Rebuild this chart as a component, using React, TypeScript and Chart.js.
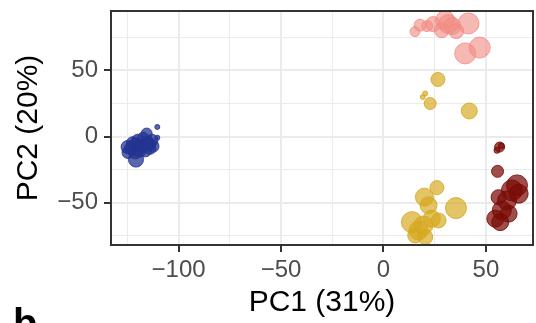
import { useEffect, useRef } from "react";
import { Chart, registerables } from "chart.js";

Chart.register(...registerables);

// PCA scores per sample group: PC1, PC2 and a per-sample size value (bubble radius)
const blueX = [-122.3, -118.9, -115.0, -113.0, -116.3, -121.2, -124.7, -114.0, -120.0, -117.3, -112.5, -123.2, -118.0, -121.0, -116.0, -119.0, -114.0, -124.9, -120.8, -115.6, -110.4, -110.4];
const blueY = [-5.0, -6.6, -4.3, -2.8, -10.4, -11.9, -12.0, -8.9, -2.8, -1.3, -7.3, -8.9, -8.0, -6.0, -6.0, -11.0, -5.5, -7.9, -17.4, 2.3, 7.3, -0.8];
const blueS = [6.5, 6.5, 6, 6, 6.5, 6.5, 6, 6, 6, 6, 6, 6.5, 6.5, 6.5, 6.5, 6, 6, 6.5, 7.5, 5.5, 2.5, 2.5];

const salmonX = [15.4, 17.9, 21.3, 24.3, 28.5, 30.1, 31.6, 33.6, 35.5, 41.5, 39.9, 47.0];
const salmonY = [79.4, 84.3, 83.6, 85.1, 80.5, 88.1, 85.1, 83.6, 79.8, 85.6, 62.9, 67.3];
const salmonS = [5, 6, 5.5, 7.5, 7.5, 9.5, 9.5, 8.5, 7.5, 10.5, 10.5, 10.5];

const goldX = [26.6, 20.4, 19.2, 22.8, 41.9, 26.1, 20.0, 22.0, 35.4, 13.9, 23.6, 19.5, 17.1, 20.4, 15.5, 26.9];
const goldY = [43.2, 32.6, 30.0, 25.0, 19.4, -38.6, -45.8, -52.0, -54.1, -64.7, -62.1, -67.2, -71.0, -76.0, -74.8, -63.4];
const goldS = [7, 2.5, 2.5, 6, 8, 7, 9, 8.5, 10.5, 10.5, 8.5, 9.5, 9.5, 7.5, 7.5, 7.5];

const redX = [56.7, 55.4, 57.5, 55.7, 65.2, 62.7, 56.2, 60.3, 57.8, 54.6, 61.1, 66.0, 57.0];
const redY = [-7.9, -10.4, -7.0, -26.3, -36.9, -40.7, -45.8, -48.3, -55.8, -62.1, -58.3, -43.2, -64.7];
const redS = [5, 3, 3, 6, 10.5, 10.5, 7.5, 9.5, 9.5, 8.5, 8.5, 9.5, 8.5];

const xTitle = "PC1 (31%)";
const yTitle = "PC2 (20%)";
const panelTag = "b";

const FONT = "'Liberation Sans', Arial, Helvetica, sans-serif";

const toPoints = (xs: number[], ys: number[], ss: number[]) =>
  xs.map((x, i) => ({ x, y: ys[i], r: ss[i] }));

const fmt = (v: number) => (v < 0 ? "\u2212" + Math.abs(v) : String(v));
const isMajor = (v: number) => Math.abs(v % 50) < 1e-9;

// Panel frame, axis titles and the panel tag
const decorations = {
  id: "decorations",
  afterDraw(chart: Chart) {
    const { ctx, chartArea } = chart;
    ctx.save();
    ctx.strokeStyle = "#333333";
    ctx.lineWidth = 2;
    ctx.strokeRect(chartArea.left, chartArea.top, chartArea.right - chartArea.left, chartArea.bottom - chartArea.top);

    ctx.fillStyle = "#000000";
    ctx.font = `30px ${FONT}`;
    ctx.textAlign = "center";
    ctx.textBaseline = "middle";
    ctx.fillText(xTitle, (chartArea.left + chartArea.right) / 2, 303);

    ctx.translate(29, (chartArea.top + chartArea.bottom) / 2);
    ctx.rotate(-Math.PI / 2);
    ctx.fillText(yTitle, 0, 0);
    ctx.restore();

    ctx.save();
    ctx.fillStyle = "#000000";
    ctx.font = `bold 40px ${FONT}`;
    ctx.textAlign = "left";
    ctx.textBaseline = "alphabetic";
    ctx.fillText(panelTag, 13, 337);
    ctx.restore();
  },
};

const axisCommon = (labelPad: number) => ({
  type: "linear" as const,
  ticks: {
    stepSize: 25,
    includeBounds: false,
    autoSkip: false,
    maxRotation: 0,
    padding: labelPad,
    color: "#4D4D4D",
    font: { family: FONT, size: 24 },
    callback: (v: number | string) => (isMajor(Number(v)) ? fmt(Number(v)) : ""),
  },
  grid: {
    color: "#EBEBEB",
    lineWidth: (c: any) => (isMajor(c.tick.value) ? 2 : 1),
    drawTicks: true,
    tickLength: 7,
    tickWidth: 2,
    tickColor: (c: any) => (isMajor(c.tick.value) ? "#333333" : "rgba(0,0,0,0)"),
  },
  border: { display: false },
});

const fixBox = (w: number | null, h: number | null) => (s: any) => {
  if (w !== null) s.width = w;
  if (h !== null) s.height = h;
  s.paddingTop = 0;
  s.paddingBottom = 0;
  s.paddingLeft = 0;
  s.paddingRight = 0;
};

export default function App() {
  const canvasRef = useRef<HTMLCanvasElement | null>(null);

  useEffect(() => {
    if (!canvasRef.current) return;
    const chart = new Chart(canvasRef.current, {
      type: "bubble",
      data: {
        datasets: [
          {
            data: toPoints(blueX, blueY, blueS),
            backgroundColor: "rgba(35,52,145,0.75)",
            borderColor: "rgba(35,52,145,0.85)",
            borderWidth: 1,
          },
          {
            data: toPoints(salmonX, salmonY, salmonS),
            backgroundColor: "rgba(240,140,132,0.62)",
            borderColor: "rgba(240,140,132,0.8)",
            borderWidth: 1,
          },
          {
            data: toPoints(goldX, goldY, goldS),
            backgroundColor: "rgba(214,168,30,0.68)",
            borderColor: "rgba(214,168,30,0.85)",
            borderWidth: 1,
          },
          {
            data: toPoints(redX, redY, redS),
            backgroundColor: "rgba(122,11,5,0.72)",
            borderColor: "rgba(122,11,5,0.85)",
            borderWidth: 1,
          },
        ],
      },
      options: {
        animation: false,
        responsive: false,
        devicePixelRatio: 1,
        events: [],
        layout: { autoPadding: false, padding: { left: 0, top: 11, right: 3, bottom: 0 } },
        plugins: { legend: { display: false }, tooltip: { enabled: false } },
        scales: {
          x: {
            ...axisCommon(4),
            min: -133,
            max: 73,
            afterFit: fixBox(null, 78),
          },
          y: {
            ...axisCommon(6),
            min: -82,
            max: 95,
            afterFit: fixBox(111, null),
          },
        } as any,
      },
      plugins: [decorations],
    });
    return () => chart.destroy();
  }, []);

  return (
    <div
      style={{
        position: "absolute",
        left: 0,
        top: 0,
        width: 536,
        height: 323,
        overflow: "hidden",
        background: "#ffffff",
      }}
    >
      <canvas ref={canvasRef} width={536} height={323} style={{ display: "block" }} />
    </div>
  );
}
